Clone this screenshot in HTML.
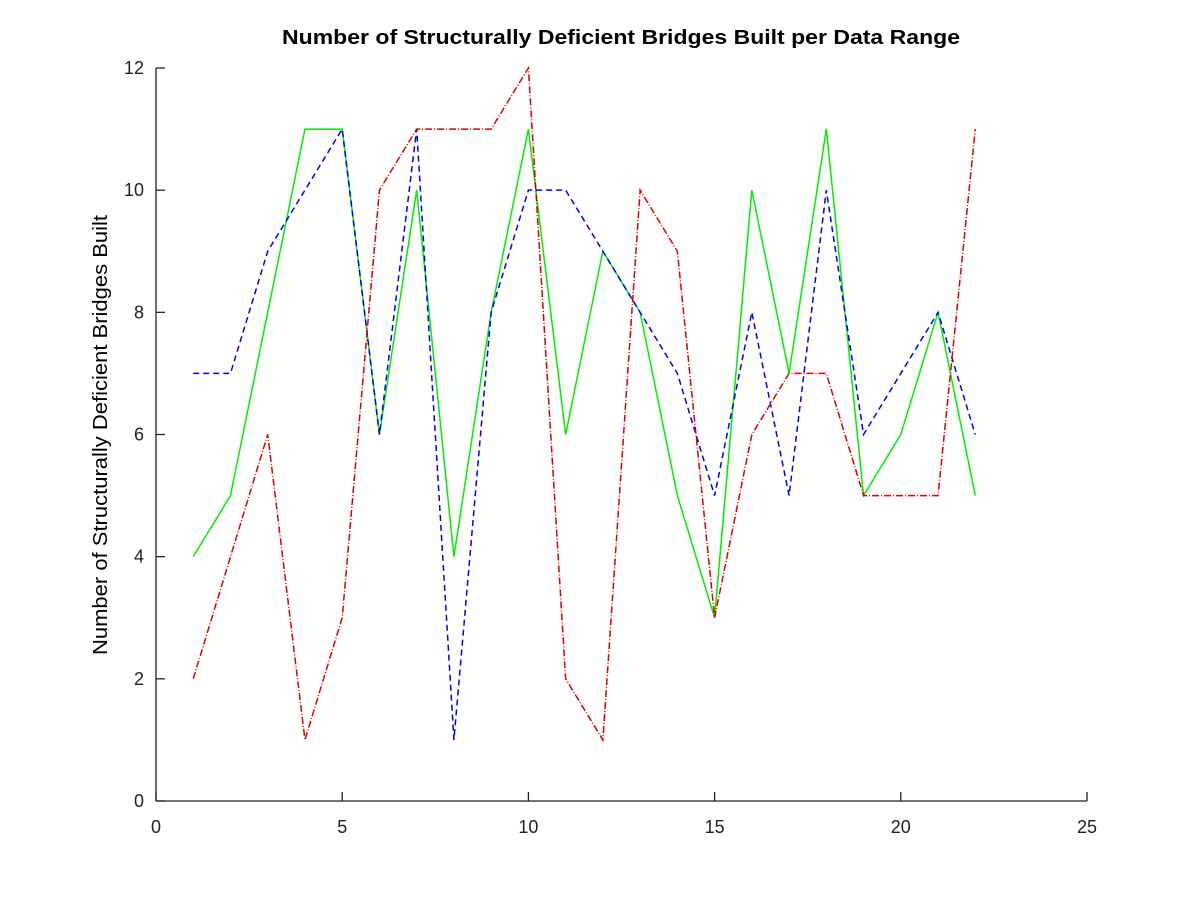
<!DOCTYPE html>
<html><head><meta charset="utf-8"><style>
html,body{margin:0;padding:0;background:#fff;}
svg{display:block;font-family:"Liberation Sans",sans-serif;}
</style></head><body>
<svg id="chart" width="1200" height="900" viewBox="0 0 1200 900">
<rect width="1200" height="900" fill="#fff"/>
<text x="621" y="44" text-anchor="middle" font-size="20" font-weight="bold" textLength="678" lengthAdjust="spacingAndGlyphs">Number of Structurally Deficient Bridges Built per Data Range</text>
<text transform="translate(107,435) rotate(-90)" text-anchor="middle" font-size="20" textLength="440" lengthAdjust="spacingAndGlyphs">Number of Structurally Deficient Bridges Built</text>
<g id="axes"></g>
<g id="series"></g>
</svg>
<script>
const xValues=[1,2,3,4,5,6,7,8,9,10,11,12,13,14,15,16,17,18,19,20,21,22];
const greenValues=[4,5,8,11,11,6,10,4,8,11,6,9,8,5,3,10,7,11,5,6,8,5];
const blueValues=[7,7,9,10,11,6,11,1,8,10,10,9,8,7,5,8,5,10,6,7,8,6];
const redValues=[2,4,6,1,3,10,11,11,11,12,2,1,10,9,3,6,7,7,5,5,5,11];
const xTicks=[0,5,10,15,20,25];
const yTicks=[0,2,4,6,8,10,12];
const X0=156,X1=1087,Y0=801,Y1=68;
function sx(v){return X0+(v-0)/(25-0)*(X1-X0);}
function sy(v){return Y0-(v-0)/(12-0)*(Y0-Y1);}
const NS='http://www.w3.org/2000/svg';
const axes=document.getElementById('axes');
function mk(tag,attrs,parent){const e=document.createElementNS(NS,tag);for(const k in attrs)e.setAttribute(k,attrs[k]);parent.appendChild(e);return e;}
let l=mk('line',{x1:X0,y1:Y0,x2:X1,y2:Y0,stroke:'#222','stroke-width':1.3},axes);


l=mk('line',{x1:X0,y1:Y0,x2:X0,y2:Y1,stroke:'#222','stroke-width':1.3},axes);


xTicks.forEach(t=>{
 const x=sx(t);
 const tk=mk('line',{x1:x,y1:Y0,x2:x,y2:Y0-9,stroke:'#222','stroke-width':1.3},axes);
 
 
 const tx=mk('text',{x:x,y:Y0+32,'text-anchor':'middle','font-size':18,fill:'#222'},axes);
 tx.textContent=t;
 
 
});
yTicks.forEach(t=>{
 const y=sy(t);
 const tk=mk('line',{x1:X0,y1:y,x2:X0+9,y2:y,stroke:'#222','stroke-width':1.3},axes);
 
 
 const tx=mk('text',{x:X0-12,y:y+6,'text-anchor':'end','font-size':18,fill:'#222'},axes);
 tx.textContent=t;
 
 
});
const series=document.getElementById('series');
function drawLine(vals,color,dash,name){
 const pts=vals.map((v,i)=>sx(xValues[i])+','+sy(v)).join(' ');
 const p=mk('polyline',{points:pts,fill:'none',stroke:color,'stroke-width':1.5,'stroke-dasharray':dash},series);
 
 
}
drawLine(greenValues,'#00ee00','none','green-series');
drawLine(blueValues,'#0000ee','6,4','blue-series');
drawLine(redValues,'#dd0000','7,2,1,2','red-series');
</script>
</body></html>
